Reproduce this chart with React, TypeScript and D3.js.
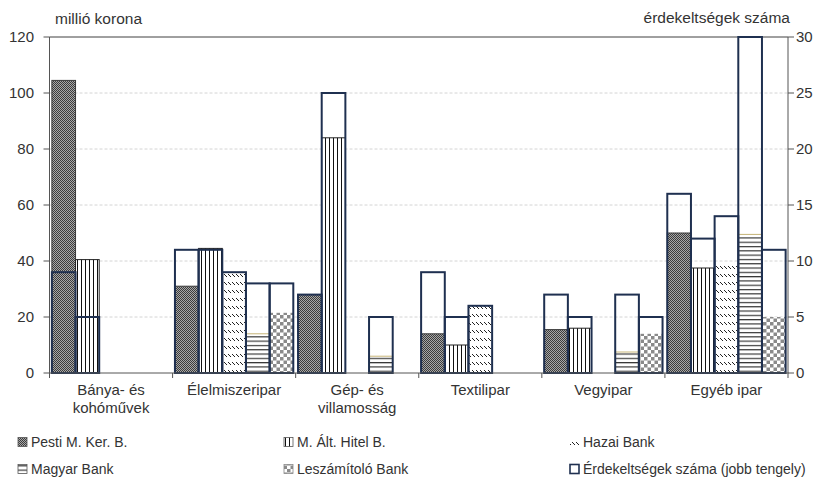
import React from 'react';
import * as d3 from 'd3';

const categories: string[][] = [
  ['Bánya- és', 'kohóművek'],
  ['Élelmiszeripar'],
  ['Gép- és', 'villamosság'],
  ['Textilipar'],
  ['Vegyipar'],
  ['Egyéb ipar'],
];

const banks = ['Pesti M. Ker. B.', 'M. Ált. Hitel B.', 'Hazai Bank', 'Magyar Bank', 'Leszámítoló Bank'];
const countLabel = 'Érdekeltségek száma (jobb tengely)';

// capital, million korona (left axis)
const pestiCapital = [104.5, 31, 28, 14, 15.5, 50];
const altHitelCapital = [40.5, 44.5, 84, 10, 16, 37.5];
const hazaiCapital = [0, 36, 0, 24, 0, 39];
const magyarCapital = [0, 14, 6, 0, 7.5, 49.5];
const leszamitoloCapital = [0, 21.5, 0, 0, 14, 20];

// number of interests (right axis)
const pestiCount = [9, 11, 7, 9, 7, 16];
const altHitelCount = [5, 11, 25, 5, 5, 12];
const hazaiCount = [0, 9, 0, 6, 0, 14];
const magyarCount = [0, 8, 5, 0, 7, 30];
const leszamitoloCount = [0, 8, 0, 0, 5, 11];

const leftTicks = [0, 20, 40, 60, 80, 100, 120];
const rightTicks = [0, 5, 10, 15, 20, 25, 30];

const capitalSeries = [pestiCapital, altHitelCapital, hazaiCapital, magyarCapital, leszamitoloCapital];
const countSeries = [pestiCount, altHitelCount, hazaiCount, magyarCount, leszamitoloCount];

const patIds = ['patPesti', 'patAlt', 'patHazai', 'patMagyar', 'patLesz'];
const patStroke = ['#3a3a3a', '#222', 'none', '#c9b77a', 'none'];

const FONT = '"Liberation Sans", Arial, sans-serif';
const TXT = '#333';
const NAVY = '#1f3050';

export default function App() {
  const W = 831, H = 481;
  const left = 49.5, right = 788, top = 37, bottom = 373;

  const x0 = d3.scaleBand<number>().domain(categories.map((_, i) => i)).range([left, right]).padding(0);
  const x1 = d3.scaleBand<string>().domain(banks).range([0, x0.bandwidth()]).paddingInner(0).paddingOuter(0.1);
  const yL = d3.scaleLinear().domain([0, 120]).range([bottom, top]);
  const yR = d3.scaleLinear().domain([0, 30]).range([bottom, top]);

  const legendItems = [
    { label: banks[0], fill: 'url(#patPesti)', stroke: '#555' },
    { label: banks[1], fill: 'url(#patAlt)', stroke: '#555' },
    { label: banks[2], fill: 'url(#patHazai)', stroke: 'none' },
    { label: banks[3], fill: 'url(#patMagyar)', stroke: '#555' },
    { label: banks[4], fill: 'url(#patLesz)', stroke: '#888' },
    { label: countLabel, fill: '#fff', stroke: NAVY },
  ];
  const legendCols = [18, 284, 570];
  const legendRows = [442, 469];

  return (
    <svg width={W} height={H} style={{ position: 'absolute', left: 0, top: 0, background: '#fff' }} fontFamily={FONT}>
      <defs>
        <pattern id="patPesti" patternUnits="userSpaceOnUse" width={2} height={2}>
          <rect width={2} height={2} fill="#a8a8a8" />
          <rect x={0} y={0} width={1} height={1} fill="#3c3c3c" />
          <rect x={1} y={1} width={1} height={1} fill="#3c3c3c" />
        </pattern>
        <pattern id="patAlt" patternUnits="userSpaceOnUse" width={4} height={4}>
          <rect width={4} height={4} fill="#fff" />
          <rect x={1} y={0} width={1} height={4} fill="#111" />
        </pattern>
        <pattern id="patHazai" patternUnits="userSpaceOnUse" width={4} height={8}>
          <rect width={4} height={8} fill="#fff" />
          <path d="M0,2 L3,5" stroke="#222" strokeWidth={1} />
        </pattern>
        <pattern id="patMagyar" patternUnits="userSpaceOnUse" width={4} height={4.3}>
          <rect width={4} height={4.3} fill="#fff" />
          <rect x={0} y={1} width={4} height={1} fill="#111" />
        </pattern>
        <pattern id="patLesz" patternUnits="userSpaceOnUse" width={7} height={7}>
          <rect width={7} height={7} fill="#fff" />
          <rect x={0} y={0} width={3.5} height={3.5} fill="#8a8a8a" />
          <rect x={3.5} y={3.5} width={3.5} height={3.5} fill="#8a8a8a" />
        </pattern>
      </defs>

      {/* gridlines */}
      {leftTicks.filter(t => t > 0 && t < 120).map(t => (
        <line key={'g' + t} x1={left} x2={right} y1={yL(t)} y2={yL(t)} stroke="#d4d4d4" strokeWidth={1} strokeDasharray="3,2" />
      ))}
      <line x1={left} x2={right} y1={yL(120)} y2={yL(120)} stroke="#404040" strokeWidth={1} />

      {/* patterned capital bars */}
      {capitalSeries.map((series, b) =>
        series.map((v, c) => {
          if (v <= 0) return null;
          const x = (x0(c) as number) + (x1(banks[b]) as number);
          return (
            <rect key={`p${b}-${c}`} x={x} y={yL(v)} width={x1.bandwidth()} height={bottom - yL(v)}
              fill={`url(#${patIds[b]})`} stroke={patStroke[b]} strokeWidth={1} />
          );
        })
      )}

      {/* count boxes (right axis) */}
      {countSeries.map((series, b) =>
        series.map((v, c) => {
          if (v <= 0) return null;
          const x = (x0(c) as number) + (x1(banks[b]) as number);
          return (
            <rect key={`c${b}-${c}`} x={x} y={yR(v)} width={x1.bandwidth()} height={bottom - yR(v)}
              fill="none" stroke={NAVY} strokeWidth={2} />
          );
        })
      )}

      {/* axes */}
      <line x1={left} x2={left} y1={top} y2={bottom} stroke="#555" />
      <line x1={right} x2={right} y1={top} y2={bottom} stroke="#555" />
      <line x1={left} x2={right + 0.5} y1={bottom} y2={bottom} stroke="#555" />
      {leftTicks.map(t => (
        <g key={'lt' + t}>
          <line x1={left - 6} x2={left} y1={yL(t)} y2={yL(t)} stroke="#555" />
          <text x={34} y={yL(t)} dy="0.35em" textAnchor="end" fontSize={15} fill={TXT}>{t}</text>
        </g>
      ))}
      {rightTicks.map(t => (
        <g key={'rt' + t}>
          <line x1={right} x2={right + 6} y1={yR(t)} y2={yR(t)} stroke="#555" />
          <text x={796} y={yR(t)} dy="0.35em" textAnchor="start" fontSize={15} fill={TXT}>{t}</text>
        </g>
      ))}
      {[...categories.map((_, i) => x0(i) as number), right].map((xv, i) => (
        <line key={'xt' + i} x1={xv} x2={xv} y1={bottom} y2={bottom + 5} stroke="#555" />
      ))}
      {categories.map((lines, i) => (
        <text key={'cl' + i} x={(x0(i) as number) + x0.bandwidth() / 2} y={395} textAnchor="middle" fontSize={15} fill={TXT}>
          {lines.map((ln, j) => (
            <tspan key={j} x={(x0(i) as number) + x0.bandwidth() / 2} y={395 + j * 18}>{ln}</tspan>
          ))}
        </text>
      ))}

      {/* axis titles */}
      <text x={55} y={24} fontSize={15.5} fill={TXT}>millió korona</text>
      <text x={790} y={23} fontSize={15.5} textAnchor="end" fill={TXT}>érdekeltségek száma</text>

      {/* legend */}
      {legendItems.map((it, i) => {
        const lx = legendCols[i % 3];
        const ly = legendRows[Math.floor(i / 3)];
        return (
          <g key={'lg' + i}>
            <rect x={lx} y={ly - 4.5} width={9} height={9} fill={it.fill} stroke={it.stroke}
              strokeWidth={i === 5 ? 1.6 : 0.8} />
            <text x={lx + 13} y={ly} dy="0.35em" fontSize={14} fill={TXT}>{it.label}</text>
          </g>
        );
      })}
    </svg>
  );
}
